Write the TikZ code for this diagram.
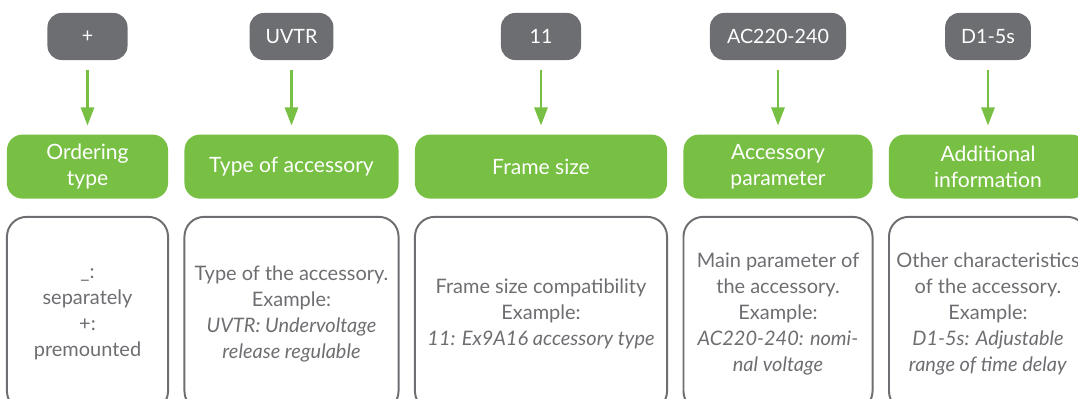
\documentclass[tikz,border=0pt]{standalone}
\usepackage{fontspec}
\setmainfont{Lato}
\usetikzlibrary{positioning,arrows.meta}
\definecolor{tagGray}{HTML}{6D6E71}
\definecolor{fieldGreen}{HTML}{77C043}
\definecolor{descGray}{HTML}{6D6E71}
\tikzset{
  tag/.style={fill=tagGray, text=white, rounded corners=10pt, minimum height=1.175cm, minimum width=2cm, inner xsep=0.4cm, font=\fontsize{14}{18}\selectfont},
  field/.style={fill=fieldGreen, text=white, rounded corners=11pt, minimum height=1.6cm, align=center, font=\fontsize{15}{18.5}\selectfont},
  desc/.style={draw=descGray, line width=1.4pt, text=descGray, rounded corners=14pt, minimum height=4.85cm, align=center, inner xsep=0pt, font=\fontsize{14.2}{18.5}\selectfont},
  arrow/.style={draw=fieldGreen, line width=1.5pt, -{Triangle[width=0.33cm,length=0.45cm]}, shorten <=0.25cm, shorten >=0.22cm}
}
\begin{document}
\begin{tikzpicture}[x=0.025cm,y=-0.025cm,node distance=1.85cm]
\useasboundingbox (0,0) rectangle (1078,399);
% code tags
\node (t1) [tag] at (87.5,36.5) {+};
\node (t2) [tag] at (291.5,36.5) {UVTR};
\node (t3) [tag] at (541,36.5) {11};
\node (t4) [tag, minimum width=3.4cm] at (778,36.5) {AC220-240};
\node (t5) [tag] at (988,36.5) {D1-5s};
% field names
\node (f1) [field, below=of t1, minimum width=4.025cm] {Ordering\\type};
\node (f2) [field, below=of t2, minimum width=5.35cm] {Type of accessory};
\node (f3) [field, below=of t3, minimum width=6.3cm] {Frame size};
\node (f4) [field, below=of t4, minimum width=4.725cm] {Accessory\\parameter};
\node (f5) [field, below=of t5, minimum width=4.95cm] {Additional\\information};
% descriptions
\node (d1) [desc, below=0.425cm of f1, minimum width=4.025cm] {\_:\\separately\\+:\\premounted};
\node (d2) [desc, below=0.425cm of f2, minimum width=5.35cm] {Type of the accessory.\\Example:\\\textit{UVTR: Undervoltage}\\\textit{release regulable}};
\node (d3) [desc, below=0.425cm of f3, minimum width=6.3cm] {Frame size compatibility\\Example:\\\textit{11: Ex9A16 accessory type}};
\node (d4) [desc, below=0.425cm of f4, minimum width=4.725cm] {Main parameter of\\the accessory.\\Example:\\\textit{AC220-240: nomi-}\\\textit{nal voltage}};
\node (d5) [desc, below=0.425cm of f5, minimum width=4.95cm] {Other characteristics\\of the accessory.\\Example:\\\textit{D1-5s: Adjustable}\\\textit{range of time delay}};
\draw[arrow] (t1) -- (f1);
\draw[arrow] (t2) -- (f2);
\draw[arrow] (t3) -- (f3);
\draw[arrow] (t4) -- (f4);
\draw[arrow] (t5) -- (f5);
\end{tikzpicture}
\end{document}
